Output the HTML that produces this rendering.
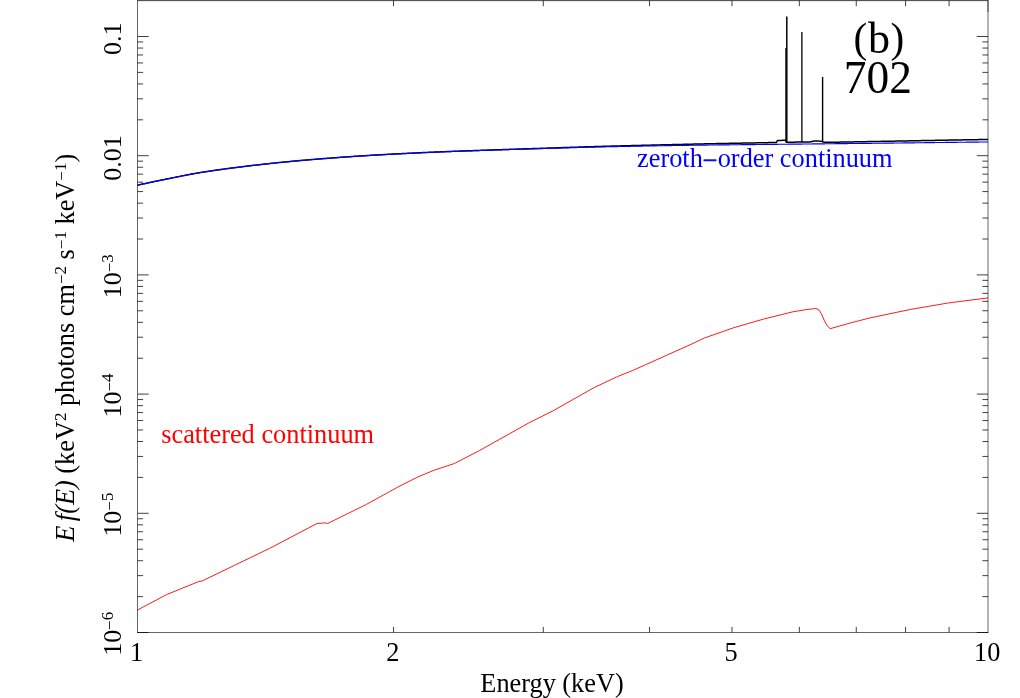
<!DOCTYPE html>
<html><head><meta charset="utf-8"><title>chart</title>
<style>html,body{margin:0;padding:0;background:#fff;width:1020px;height:698px;overflow:hidden}</style></head>
<body>
<svg width="1020" height="698" viewBox="0 0 1020 698" style="display:block;position:absolute;left:0;top:0;will-change:transform">
<rect width="1020" height="698" fill="#fff"/>
<path d="M137.5,185.19 L138.5,184.97 L139.5,184.75 L140.5,184.53 L141.5,184.31 L142.5,184.09 L143.5,183.88 L144.5,183.66 L145.5,183.45 L146.5,183.23 L147.5,183.02 L148.5,182.80 L149.5,182.59 L150.5,182.38 L151.5,182.16 L152.5,181.95 L153.5,181.74 L154.5,181.53 L155.5,181.32 L156.5,181.11 L157.5,180.91 L158.5,180.70 L159.5,180.49 L160.5,180.28 L161.5,180.08 L162.5,179.87 L163.5,179.67 L164.5,179.47 L165.5,179.26 L166.5,179.06 L167.5,178.86 L168.5,178.66 L169.5,178.46 L170.5,178.25 L171.5,178.05 L172.5,177.85 L173.5,177.64 L174.5,177.44 L175.5,177.24 L176.5,177.03 L177.5,176.83 L178.5,176.63 L179.5,176.43 L180.5,176.23 L181.5,176.03 L182.5,175.83 L183.5,175.63 L184.5,175.43 L185.5,175.24 L186.5,175.05 L187.5,174.85 L188.5,174.66 L189.5,174.47 L190.5,174.29 L191.5,174.10 L192.5,173.92 L193.5,173.73 L194.5,173.56 L195.5,173.38 L196.5,173.20 L197.5,173.03 L198.5,172.86 L199.5,172.70 L200.5,172.53 L201.5,172.37 L202.5,172.21 L203.5,172.05 L204.5,171.89 L205.5,171.74 L206.5,171.58 L207.5,171.43 L208.5,171.28 L209.5,171.12 L210.5,170.98 L211.5,170.83 L212.5,170.68 L213.5,170.53 L214.5,170.39 L215.5,170.25 L216.5,170.10 L217.5,169.96 L218.5,169.82 L219.5,169.68 L220.5,169.54 L221.5,169.41 L222.5,169.27 L223.5,169.13 L224.5,169.00 L225.5,168.87 L226.5,168.73 L227.5,168.60 L228.5,168.47 L229.5,168.34 L230.5,168.21 L231.5,168.08 L232.5,167.95 L233.5,167.82 L234.5,167.69 L235.5,167.57 L236.5,167.44 L237.5,167.31 L238.5,167.19 L239.5,167.06 L240.5,166.94 L241.5,166.81 L242.5,166.69 L243.5,166.57 L244.5,166.44 L245.5,166.32 L246.5,166.20 L247.5,166.08 L248.5,165.96 L249.5,165.84 L250.5,165.72 L251.5,165.60 L252.5,165.48 L253.5,165.36 L254.5,165.25 L255.5,165.13 L256.5,165.01 L257.5,164.90 L258.5,164.78 L259.5,164.67 L260.5,164.55 L261.5,164.44 L262.5,164.33 L263.5,164.22 L264.5,164.10 L265.5,163.99 L266.5,163.88 L267.5,163.77 L268.5,163.67 L269.5,163.56 L270.5,163.45 L271.5,163.34 L272.5,163.24 L273.5,163.13 L274.5,163.03 L275.5,162.92 L276.5,162.82 L277.5,162.72 L278.5,162.61 L279.5,162.51 L280.5,162.41 L281.5,162.31 L282.5,162.21 L283.5,162.11 L284.5,162.02 L285.5,161.92 L286.5,161.82 L287.5,161.73 L288.5,161.63 L289.5,161.54 L290.5,161.44 L291.5,161.35 L292.5,161.26 L293.5,161.16 L294.5,161.07 L295.5,160.98 L296.5,160.89 L297.5,160.80 L298.5,160.71 L299.5,160.62 L300.5,160.53 L301.5,160.44 L302.5,160.35 L303.5,160.27 L304.5,160.18 L305.5,160.09 L306.5,160.01 L307.5,159.92 L308.5,159.83 L309.5,159.75 L310.5,159.67 L311.5,159.58 L312.5,159.50 L313.5,159.42 L314.5,159.33 L315.5,159.25 L316.5,159.17 L317.5,159.09 L318.5,159.01 L319.5,158.93 L320.5,158.85 L321.5,158.77 L322.5,158.69 L323.5,158.62 L324.5,158.54 L325.5,158.46 L326.5,158.38 L327.5,158.31 L328.5,158.23 L329.5,158.16 L330.5,158.08 L331.5,158.00 L332.5,157.93 L333.5,157.85 L334.5,157.78 L335.5,157.71 L336.5,157.63 L337.5,157.56 L338.5,157.48 L339.5,157.41 L340.5,157.34 L341.5,157.27 L342.5,157.19 L343.5,157.12 L344.5,157.05 L345.5,156.98 L346.5,156.91 L347.5,156.84 L348.5,156.77 L349.5,156.70 L350.5,156.63 L351.5,156.56 L352.5,156.49 L353.5,156.42 L354.5,156.36 L355.5,156.29 L356.5,156.22 L357.5,156.16 L358.5,156.09 L359.5,156.03 L360.5,155.96 L361.5,155.90 L362.5,155.83 L363.5,155.77 L364.5,155.71 L365.5,155.65 L366.5,155.58 L367.5,155.52 L368.5,155.46 L369.5,155.40 L370.5,155.34 L371.5,155.28 L372.5,155.22 L373.5,155.17 L374.5,155.11 L375.5,155.05 L376.5,154.99 L377.5,154.93 L378.5,154.88 L379.5,154.82 L380.5,154.76 L381.5,154.71 L382.5,154.65 L383.5,154.60 L384.5,154.54 L385.5,154.48 L386.5,154.43 L387.5,154.37 L388.5,154.32 L389.5,154.27 L390.5,154.21 L391.5,154.16 L392.5,154.10 L393.5,154.05 L394.5,154.00 L395.5,153.94 L396.5,153.89 L397.5,153.84 L398.5,153.79 L399.5,153.74 L400.5,153.68 L401.5,153.63 L402.5,153.58 L403.5,153.53 L404.5,153.48 L405.5,153.43 L406.5,153.38 L407.5,153.33 L408.5,153.28 L409.5,153.23 L410.5,153.18 L411.5,153.13 L412.5,153.09 L413.5,153.04 L414.5,152.99 L415.5,152.94 L416.5,152.90 L417.5,152.85 L418.5,152.80 L419.5,152.75 L420.5,152.71 L421.5,152.66 L422.5,152.62 L423.5,152.57 L424.5,152.53 L425.5,152.48 L426.5,152.44 L427.5,152.39 L428.5,152.35 L429.5,152.31 L430.5,152.26 L431.5,152.22 L432.5,152.18 L433.5,152.13 L434.5,152.09 L435.5,152.05 L436.5,152.01 L437.5,151.97 L438.5,151.93 L439.5,151.88 L440.5,151.84 L441.5,151.80 L442.5,151.76 L443.5,151.72 L444.5,151.68 L445.5,151.64 L446.5,151.60 L447.5,151.56 L448.5,151.53 L449.5,151.49 L450.5,151.45 L451.5,151.41 L452.5,151.37 L453.5,151.33 L454.5,151.30 L455.5,151.26 L456.5,151.22 L457.5,151.18 L458.5,151.14 L459.5,151.11 L460.5,151.07 L461.5,151.03 L462.5,150.99 L463.5,150.96 L464.5,150.92 L465.5,150.88 L466.5,150.85 L467.5,150.81 L468.5,150.77 L469.5,150.74 L470.5,150.70 L471.5,150.67 L472.5,150.63 L473.5,150.60 L474.5,150.56 L475.5,150.52 L476.5,150.49 L477.5,150.45 L478.5,150.42 L479.5,150.38 L480.5,150.35 L481.5,150.31 L482.5,150.28 L483.5,150.25 L484.5,150.21 L485.5,150.18 L486.5,150.14 L487.5,150.11 L488.5,150.07 L489.5,150.04 L490.5,150.01 L491.5,149.97 L492.5,149.94 L493.5,149.90 L494.5,149.87 L495.5,149.84 L496.5,149.80 L497.5,149.77 L498.5,149.73 L499.5,149.70 L500.5,149.67 L501.5,149.63 L502.5,149.60 L503.5,149.57 L504.5,149.53 L505.5,149.50 L506.5,149.47 L507.5,149.43 L508.5,149.40 L509.5,149.37 L510.5,149.34 L511.5,149.30 L512.5,149.27 L513.5,149.24 L514.5,149.20 L515.5,149.17 L516.5,149.14 L517.5,149.10 L518.5,149.07 L519.5,149.04 L520.5,149.00 L521.5,148.97 L522.5,148.94 L523.5,148.91 L524.5,148.87 L525.5,148.84 L526.5,148.81 L527.5,148.77 L528.5,148.74 L529.5,148.71 L530.5,148.67 L531.5,148.64 L532.5,148.61 L533.5,148.57 L534.5,148.54 L535.5,148.51 L536.5,148.48 L537.5,148.44 L538.5,148.41 L539.5,148.38 L540.5,148.34 L541.5,148.31 L542.5,148.28 L543.5,148.24 L544.5,148.21 L545.5,148.18 L546.5,148.14 L547.5,148.11 L548.5,148.08 L549.5,148.05 L550.5,148.01 L551.5,147.98 L552.5,147.95 L553.5,147.91 L554.5,147.88 L555.5,147.85 L556.5,147.81 L557.5,147.78 L558.5,147.75 L559.5,147.71 L560.5,147.68 L561.5,147.65 L562.5,147.61 L563.5,147.58 L564.5,147.55 L565.5,147.52 L566.5,147.48 L567.5,147.45 L568.5,147.42 L569.5,147.39 L570.5,147.35 L571.5,147.32 L572.5,147.29 L573.5,147.26 L574.5,147.22 L575.5,147.19 L576.5,147.16 L577.5,147.13 L578.5,147.09 L579.5,147.06 L580.5,147.03 L581.5,147.00 L582.5,146.97 L583.5,146.94 L584.5,146.90 L585.5,146.87 L586.5,146.84 L587.5,146.81 L588.5,146.78 L589.5,146.75 L590.5,146.72 L591.5,146.69 L592.5,146.66 L593.5,146.63 L594.5,146.60 L595.5,146.57 L596.5,146.54 L597.5,146.51 L598.5,146.48 L599.5,146.45 L600.5,146.42 L601.5,146.39 L602.5,146.37 L603.5,146.34 L604.5,146.31 L605.5,146.28 L606.5,146.25 L607.5,146.23 L608.5,146.20 L609.5,146.17 L610.5,146.15 L611.5,146.12 L612.5,146.09 L613.5,146.07 L614.5,146.04 L615.5,146.01 L616.5,145.99 L617.5,145.96 L618.5,145.93 L619.5,145.91 L620.5,145.88 L621.5,145.86 L622.5,145.83 L623.5,145.81 L624.5,145.78 L625.5,145.76 L626.5,145.73 L627.5,145.71 L628.5,145.68 L629.5,145.66 L630.5,145.63 L631.5,145.61 L632.5,145.59 L633.5,145.56 L634.5,145.54 L635.5,145.51 L636.5,145.48 L637.5,145.46 L638.5,145.44 L639.5,145.41 L640.5,145.39 L641.5,145.36 L642.5,145.34 L643.5,145.31 L644.5,145.29 L645.5,145.26 L646.5,145.24 L647.5,145.21 L648.5,145.19 L649.5,145.16 L650.5,145.14 L651.5,145.11 L652.5,145.09 L653.5,145.07 L654.5,145.04 L655.5,145.02 L656.5,144.99 L657.5,144.97 L658.5,144.94 L659.5,144.92 L660.5,144.90 L661.5,144.87 L662.5,144.85 L663.5,144.82 L664.5,144.80 L665.5,144.78 L666.5,144.75 L667.5,144.73 L668.5,144.71 L669.5,144.68 L670.5,144.66 L671.5,144.63 L672.5,144.61 L673.5,144.59 L674.5,144.56 L675.5,144.54 L676.5,144.52 L677.5,144.49 L678.5,144.47 L679.5,144.45 L680.5,144.42 L681.5,144.40 L682.5,144.38 L683.5,144.35 L684.5,144.33 L685.5,144.31 L686.5,144.28 L687.5,144.26 L688.5,144.24 L689.5,144.21 L690.5,144.19 L691.5,144.17 L692.5,144.14 L693.5,144.12 L694.5,144.09 L695.5,144.07 L696.5,144.05 L697.5,144.02 L698.5,144.00 L699.5,143.98 L700.5,143.95 L701.5,143.93 L702.5,143.91 L703.5,143.88 L704.5,143.86 L705.5,143.84 L706.5,143.82 L707.5,143.80 L708.5,143.78 L709.5,143.76 L710.5,143.74 L711.5,143.72 L712.5,143.70 L713.5,143.68 L714.5,143.66 L715.5,143.64 L716.5,143.62 L717.5,143.60 L718.5,143.58 L719.5,143.56 L720.5,143.54 L721.5,143.52 L722.5,143.50 L723.5,143.48 L724.5,143.46 L725.5,143.44 L726.5,143.42 L727.5,143.40 L728.5,143.38 L729.5,143.36 L730.5,143.34 L731.5,143.32 L732.5,143.30 L733.5,143.28 L734.5,143.27 L735.5,143.25 L736.5,143.23 L737.5,143.21 L738.5,143.19 L739.5,143.17 L740.5,143.16 L741.5,143.14 L742.5,143.12 L743.5,143.10 L744.5,143.08 L745.5,143.06 L746.5,143.05 L747.5,143.03 L748.5,143.01 L749.5,142.99 L750.5,142.97 L751.5,142.95 L752.5,142.93 L753.5,142.91 L754.5,142.89 L755.5,142.88 L756.5,142.86 L757.5,142.84 L758.5,142.82 L759.5,142.80 L760.5,142.78 L761.5,142.76 L762.5,142.74 L763.5,142.72 L764.5,142.70 L765.5,142.68 L766.5,142.66 L767.5,142.64 L768.5,142.62 L769.5,142.61 L770.5,142.59 L771.5,142.57 L772.5,142.55 L773.5,142.53 L774.5,142.51 L775.5,142.49 L776.5,142.47 L777.5,140.45 L778.5,140.43 L779.5,140.42 L780.5,140.40 L781.5,140.38 L782.5,140.36 L783.5,140.34 L784.5,140.32 L785.5,140.30 L786.5,142.28 L787.5,142.26 L788.5,142.24 L789.5,142.22 L790.5,142.20 L791.5,142.18 L792.5,142.16 L793.5,142.15 L794.5,142.13 L795.5,142.11 L796.5,142.10 L797.5,142.08 L798.5,142.06 L799.5,142.05 L800.5,142.03 L801.5,142.01 L802.5,142.00 L803.5,141.98 L804.5,141.96 L805.5,141.95 L806.5,141.93 L807.5,141.92 L808.5,141.90 L809.5,141.89 L810.5,141.87 L811.5,141.86 L812.5,141.14 L813.5,141.13 L814.5,141.11 L815.5,141.10 L816.5,141.10 L817.5,141.10 L818.5,141.11 L819.5,141.14 L820.5,141.19 L821.5,141.24 L822.5,142.01 L823.5,142.08 L824.5,142.14 L825.5,142.19 L826.5,142.23 L827.5,142.26 L828.5,142.29 L829.5,142.31 L830.5,142.31 L831.5,142.29 L832.5,142.27 L833.5,142.25 L834.5,142.23 L835.5,142.22 L836.5,142.20 L837.5,142.18 L838.5,142.16 L839.5,142.14 L840.5,142.12 L841.5,142.11 L842.5,142.09 L843.5,142.07 L844.5,142.05 L845.5,142.03 L846.5,142.01 L847.5,141.99 L848.5,141.98 L849.5,141.96 L850.5,141.94 L851.5,141.92 L852.5,141.90 L853.5,141.88 L854.5,141.87 L855.5,141.85 L856.5,141.83 L857.5,141.81 L858.5,141.79 L859.5,141.77 L860.5,141.75 L861.5,141.74 L862.5,141.72 L863.5,141.70 L864.5,141.68 L865.5,141.66 L866.5,141.64 L867.5,141.62 L868.5,141.60 L869.5,141.59 L870.5,141.57 L871.5,141.55 L872.5,141.53 L873.5,141.51 L874.5,141.50 L875.5,141.48 L876.5,141.46 L877.5,141.44 L878.5,141.43 L879.5,141.41 L880.5,141.39 L881.5,141.37 L882.5,141.35 L883.5,141.34 L884.5,141.32 L885.5,141.30 L886.5,141.28 L887.5,141.26 L888.5,141.24 L889.5,141.23 L890.5,141.21 L891.5,141.19 L892.5,141.17 L893.5,141.15 L894.5,141.13 L895.5,141.11 L896.5,141.10 L897.5,141.08 L898.5,141.06 L899.5,141.04 L900.5,141.02 L901.5,141.00 L902.5,140.98 L903.5,140.96 L904.5,140.94 L905.5,140.92 L906.5,140.90 L907.5,140.88 L908.5,140.86 L909.5,140.84 L910.5,140.82 L911.5,140.81 L912.5,140.79 L913.5,140.77 L914.5,140.75 L915.5,140.73 L916.5,140.71 L917.5,140.70 L918.5,140.68 L919.5,140.66 L920.5,140.64 L921.5,140.62 L922.5,140.60 L923.5,140.58 L924.5,140.57 L925.5,140.55 L926.5,140.53 L927.5,140.51 L928.5,140.49 L929.5,140.47 L930.5,140.45 L931.5,140.44 L932.5,140.42 L933.5,140.40 L934.5,140.38 L935.5,140.36 L936.5,140.34 L937.5,140.33 L938.5,140.31 L939.5,140.29 L940.5,140.27 L941.5,140.25 L942.5,140.23 L943.5,140.21 L944.5,140.20 L945.5,140.18 L946.5,140.16 L947.5,140.14 L948.5,140.12 L949.5,140.11 L950.5,140.09 L951.5,140.07 L952.5,140.06 L953.5,140.04 L954.5,140.02 L955.5,140.01 L956.5,139.99 L957.5,139.97 L958.5,139.96 L959.5,139.94 L960.5,139.92 L961.5,139.91 L962.5,139.89 L963.5,139.87 L964.5,139.86 L965.5,139.84 L966.5,139.82 L967.5,139.81 L968.5,139.79 L969.5,139.77 L970.5,139.76 L971.5,139.74 L972.5,139.72 L973.5,139.71 L974.5,139.69 L975.5,139.67 L976.5,139.66 L977.5,139.64 L978.5,139.62 L979.5,139.61 L980.5,139.59 L981.5,139.57 L982.5,139.56 L983.5,139.54 L984.5,139.52 L985.5,139.51 L986.5,139.49 L987.5,139.47 L988.0,139.47" fill="none" stroke="#000" stroke-width="1.5" stroke-linejoin="round"/>
<path d="M786.8,142.3 L786.8,16.6" fill="none" stroke="#000" stroke-width="1.5"/>
<path d="M801.9,142.0 L801.9,32.0" fill="none" stroke="#000" stroke-width="1.3"/>
<path d="M822.6,142.0 L822.6,76.9" fill="none" stroke="#000" stroke-width="1.4"/>
<path d="M785.7,142.3 L785.7,48" fill="none" stroke="#000" stroke-width="0.9"/>
<path d="M137.5,185.20 L138.5,184.98 L139.5,184.76 L140.5,184.54 L141.5,184.33 L142.5,184.11 L143.5,183.89 L144.5,183.68 L145.5,183.46 L146.5,183.24 L147.5,183.03 L148.5,182.82 L149.5,182.60 L150.5,182.39 L151.5,182.18 L152.5,181.97 L153.5,181.76 L154.5,181.55 L155.5,181.34 L156.5,181.13 L157.5,180.92 L158.5,180.71 L159.5,180.51 L160.5,180.30 L161.5,180.10 L162.5,179.89 L163.5,179.69 L164.5,179.48 L165.5,179.28 L166.5,179.08 L167.5,178.88 L168.5,178.68 L169.5,178.47 L170.5,178.27 L171.5,178.07 L172.5,177.86 L173.5,177.66 L174.5,177.46 L175.5,177.25 L176.5,177.05 L177.5,176.85 L178.5,176.65 L179.5,176.45 L180.5,176.24 L181.5,176.05 L182.5,175.85 L183.5,175.65 L184.5,175.45 L185.5,175.26 L186.5,175.06 L187.5,174.87 L188.5,174.68 L189.5,174.49 L190.5,174.30 L191.5,174.12 L192.5,173.93 L193.5,173.75 L194.5,173.57 L195.5,173.40 L196.5,173.22 L197.5,173.05 L198.5,172.88 L199.5,172.71 L200.5,172.55 L201.5,172.39 L202.5,172.23 L203.5,172.07 L204.5,171.91 L205.5,171.76 L206.5,171.60 L207.5,171.45 L208.5,171.30 L209.5,171.14 L210.5,171.00 L211.5,170.85 L212.5,170.70 L213.5,170.55 L214.5,170.41 L215.5,170.27 L216.5,170.12 L217.5,169.98 L218.5,169.84 L219.5,169.70 L220.5,169.57 L221.5,169.43 L222.5,169.29 L223.5,169.16 L224.5,169.02 L225.5,168.89 L226.5,168.75 L227.5,168.62 L228.5,168.49 L229.5,168.36 L230.5,168.23 L231.5,168.10 L232.5,167.97 L233.5,167.84 L234.5,167.72 L235.5,167.59 L236.5,167.46 L237.5,167.34 L238.5,167.21 L239.5,167.09 L240.5,166.96 L241.5,166.84 L242.5,166.71 L243.5,166.59 L244.5,166.47 L245.5,166.35 L246.5,166.23 L247.5,166.10 L248.5,165.98 L249.5,165.86 L250.5,165.74 L251.5,165.63 L252.5,165.51 L253.5,165.39 L254.5,165.27 L255.5,165.16 L256.5,165.04 L257.5,164.92 L258.5,164.81 L259.5,164.70 L260.5,164.58 L261.5,164.47 L262.5,164.36 L263.5,164.24 L264.5,164.13 L265.5,164.02 L266.5,163.91 L267.5,163.80 L268.5,163.70 L269.5,163.59 L270.5,163.48 L271.5,163.37 L272.5,163.27 L273.5,163.16 L274.5,163.06 L275.5,162.95 L276.5,162.85 L277.5,162.75 L278.5,162.65 L279.5,162.55 L280.5,162.45 L281.5,162.35 L282.5,162.25 L283.5,162.15 L284.5,162.05 L285.5,161.95 L286.5,161.86 L287.5,161.76 L288.5,161.67 L289.5,161.57 L290.5,161.48 L291.5,161.39 L292.5,161.29 L293.5,161.20 L294.5,161.11 L295.5,161.02 L296.5,160.93 L297.5,160.84 L298.5,160.75 L299.5,160.66 L300.5,160.57 L301.5,160.48 L302.5,160.39 L303.5,160.31 L304.5,160.22 L305.5,160.13 L306.5,160.05 L307.5,159.96 L308.5,159.88 L309.5,159.79 L310.5,159.71 L311.5,159.63 L312.5,159.54 L313.5,159.46 L314.5,159.38 L315.5,159.30 L316.5,159.22 L317.5,159.14 L318.5,159.06 L319.5,158.98 L320.5,158.90 L321.5,158.82 L322.5,158.74 L323.5,158.66 L324.5,158.58 L325.5,158.51 L326.5,158.43 L327.5,158.35 L328.5,158.28 L329.5,158.20 L330.5,158.13 L331.5,158.05 L332.5,157.98 L333.5,157.90 L334.5,157.83 L335.5,157.75 L336.5,157.68 L337.5,157.61 L338.5,157.53 L339.5,157.46 L340.5,157.39 L341.5,157.32 L342.5,157.24 L343.5,157.17 L344.5,157.10 L345.5,157.03 L346.5,156.96 L347.5,156.89 L348.5,156.82 L349.5,156.75 L350.5,156.68 L351.5,156.61 L352.5,156.55 L353.5,156.48 L354.5,156.41 L355.5,156.35 L356.5,156.28 L357.5,156.21 L358.5,156.15 L359.5,156.08 L360.5,156.02 L361.5,155.96 L362.5,155.89 L363.5,155.83 L364.5,155.77 L365.5,155.71 L366.5,155.64 L367.5,155.58 L368.5,155.52 L369.5,155.46 L370.5,155.41 L371.5,155.35 L372.5,155.29 L373.5,155.23 L374.5,155.17 L375.5,155.12 L376.5,155.06 L377.5,155.00 L378.5,154.95 L379.5,154.89 L380.5,154.83 L381.5,154.78 L382.5,154.72 L383.5,154.67 L384.5,154.61 L385.5,154.56 L386.5,154.50 L387.5,154.45 L388.5,154.40 L389.5,154.34 L390.5,154.29 L391.5,154.24 L392.5,154.18 L393.5,154.13 L394.5,154.08 L395.5,154.03 L396.5,153.97 L397.5,153.92 L398.5,153.87 L399.5,153.82 L400.5,153.77 L401.5,153.72 L402.5,153.67 L403.5,153.62 L404.5,153.57 L405.5,153.52 L406.5,153.47 L407.5,153.42 L408.5,153.37 L409.5,153.32 L410.5,153.28 L411.5,153.23 L412.5,153.18 L413.5,153.13 L414.5,153.09 L415.5,153.04 L416.5,152.99 L417.5,152.95 L418.5,152.90 L419.5,152.85 L420.5,152.81 L421.5,152.76 L422.5,152.72 L423.5,152.67 L424.5,152.63 L425.5,152.59 L426.5,152.54 L427.5,152.50 L428.5,152.46 L429.5,152.41 L430.5,152.37 L431.5,152.33 L432.5,152.29 L433.5,152.24 L434.5,152.20 L435.5,152.16 L436.5,152.12 L437.5,152.08 L438.5,152.04 L439.5,152.00 L440.5,151.96 L441.5,151.92 L442.5,151.88 L443.5,151.84 L444.5,151.80 L445.5,151.76 L446.5,151.72 L447.5,151.68 L448.5,151.65 L449.5,151.61 L450.5,151.57 L451.5,151.53 L452.5,151.49 L453.5,151.46 L454.5,151.42 L455.5,151.38 L456.5,151.35 L457.5,151.31 L458.5,151.27 L459.5,151.24 L460.5,151.20 L461.5,151.16 L462.5,151.13 L463.5,151.09 L464.5,151.06 L465.5,151.02 L466.5,150.99 L467.5,150.95 L468.5,150.92 L469.5,150.88 L470.5,150.85 L471.5,150.81 L472.5,150.78 L473.5,150.74 L474.5,150.71 L475.5,150.68 L476.5,150.64 L477.5,150.61 L478.5,150.58 L479.5,150.54 L480.5,150.51 L481.5,150.48 L482.5,150.44 L483.5,150.41 L484.5,150.38 L485.5,150.34 L486.5,150.31 L487.5,150.28 L488.5,150.25 L489.5,150.21 L490.5,150.18 L491.5,150.15 L492.5,150.12 L493.5,150.08 L494.5,150.05 L495.5,150.02 L496.5,149.99 L497.5,149.96 L498.5,149.93 L499.5,149.89 L500.5,149.86 L501.5,149.83 L502.5,149.80 L503.5,149.77 L504.5,149.74 L505.5,149.71 L506.5,149.68 L507.5,149.64 L508.5,149.61 L509.5,149.58 L510.5,149.55 L511.5,149.52 L512.5,149.49 L513.5,149.46 L514.5,149.43 L515.5,149.40 L516.5,149.37 L517.5,149.34 L518.5,149.31 L519.5,149.27 L520.5,149.24 L521.5,149.21 L522.5,149.18 L523.5,149.15 L524.5,149.12 L525.5,149.09 L526.5,149.06 L527.5,149.03 L528.5,149.00 L529.5,148.97 L530.5,148.94 L531.5,148.91 L532.5,148.88 L533.5,148.85 L534.5,148.82 L535.5,148.78 L536.5,148.75 L537.5,148.72 L538.5,148.69 L539.5,148.66 L540.5,148.63 L541.5,148.60 L542.5,148.57 L543.5,148.54 L544.5,148.51 L545.5,148.48 L546.5,148.45 L547.5,148.42 L548.5,148.39 L549.5,148.36 L550.5,148.33 L551.5,148.30 L552.5,148.27 L553.5,148.24 L554.5,148.21 L555.5,148.18 L556.5,148.15 L557.5,148.12 L558.5,148.09 L559.5,148.06 L560.5,148.03 L561.5,148.00 L562.5,147.97 L563.5,147.94 L564.5,147.91 L565.5,147.88 L566.5,147.86 L567.5,147.83 L568.5,147.80 L569.5,147.77 L570.5,147.74 L571.5,147.71 L572.5,147.68 L573.5,147.66 L574.5,147.63 L575.5,147.60 L576.5,147.57 L577.5,147.54 L578.5,147.52 L579.5,147.49 L580.5,147.46 L581.5,147.43 L582.5,147.41 L583.5,147.38 L584.5,147.35 L585.5,147.33 L586.5,147.30 L587.5,147.27 L588.5,147.25 L589.5,147.22 L590.5,147.19 L591.5,147.17 L592.5,147.14 L593.5,147.12 L594.5,147.09 L595.5,147.07 L596.5,147.04 L597.5,147.02 L598.5,146.99 L599.5,146.97 L600.5,146.95 L601.5,146.92 L602.5,146.90 L603.5,146.87 L604.5,146.85 L605.5,146.83 L606.5,146.80 L607.5,146.78 L608.5,146.76 L609.5,146.74 L610.5,146.71 L611.5,146.69 L612.5,146.67 L613.5,146.65 L614.5,146.63 L615.5,146.61 L616.5,146.59 L617.5,146.57 L618.5,146.54 L619.5,146.52 L620.5,146.50 L621.5,146.48 L622.5,146.46 L623.5,146.44 L624.5,146.42 L625.5,146.40 L626.5,146.38 L627.5,146.36 L628.5,146.34 L629.5,146.32 L630.5,146.30 L631.5,146.28 L632.5,146.26 L633.5,146.24 L634.5,146.22 L635.5,146.20 L636.5,146.18 L637.5,146.16 L638.5,146.14 L639.5,146.13 L640.5,146.11 L641.5,146.09 L642.5,146.07 L643.5,146.05 L644.5,146.03 L645.5,146.01 L646.5,145.99 L647.5,145.98 L648.5,145.96 L649.5,145.94 L650.5,145.92 L651.5,145.90 L652.5,145.89 L653.5,145.87 L654.5,145.85 L655.5,145.83 L656.5,145.82 L657.5,145.80 L658.5,145.78 L659.5,145.76 L660.5,145.75 L661.5,145.73 L662.5,145.71 L663.5,145.70 L664.5,145.68 L665.5,145.66 L666.5,145.65 L667.5,145.63 L668.5,145.61 L669.5,145.60 L670.5,145.58 L671.5,145.57 L672.5,145.55 L673.5,145.53 L674.5,145.52 L675.5,145.50 L676.5,145.49 L677.5,145.47 L678.5,145.46 L679.5,145.44 L680.5,145.43 L681.5,145.41 L682.5,145.40 L683.5,145.38 L684.5,145.37 L685.5,145.35 L686.5,145.34 L687.5,145.32 L688.5,145.31 L689.5,145.29 L690.5,145.28 L691.5,145.27 L692.5,145.25 L693.5,145.24 L694.5,145.22 L695.5,145.21 L696.5,145.20 L697.5,145.18 L698.5,145.17 L699.5,145.16 L700.5,145.14 L701.5,145.13 L702.5,145.12 L703.5,145.10 L704.5,145.09 L705.5,145.08 L706.5,145.07 L707.5,145.06 L708.5,145.04 L709.5,145.03 L710.5,145.02 L711.5,145.01 L712.5,145.00 L713.5,144.98 L714.5,144.97 L715.5,144.96 L716.5,144.95 L717.5,144.94 L718.5,144.93 L719.5,144.92 L720.5,144.91 L721.5,144.90 L722.5,144.89 L723.5,144.87 L724.5,144.86 L725.5,144.85 L726.5,144.84 L727.5,144.83 L728.5,144.82 L729.5,144.81 L730.5,144.80 L731.5,144.79 L732.5,144.78 L733.5,144.77 L734.5,144.76 L735.5,144.75 L736.5,144.74 L737.5,144.73 L738.5,144.72 L739.5,144.71 L740.5,144.70 L741.5,144.69 L742.5,144.68 L743.5,144.67 L744.5,144.66 L745.5,144.65 L746.5,144.64 L747.5,144.63 L748.5,144.62 L749.5,144.61 L750.5,144.60 L751.5,144.59 L752.5,144.58 L753.5,144.57 L754.5,144.56 L755.5,144.55 L756.5,144.54 L757.5,144.53 L758.5,144.52 L759.5,144.51 L760.5,144.49 L761.5,144.48 L762.5,144.47 L763.5,144.46 L764.5,144.45 L765.5,144.44 L766.5,144.43 L767.5,144.42 L768.5,144.41 L769.5,144.40 L770.5,144.39 L771.5,144.38 L772.5,144.37 L773.5,144.35 L774.5,144.34 L775.5,144.33 L776.5,144.32 L777.5,144.31 L778.5,144.30 L779.5,144.29 L780.5,144.28 L781.5,144.27 L782.5,144.26 L783.5,144.25 L784.5,144.24 L785.5,144.23 L786.5,144.22 L787.5,144.21 L788.5,144.19 L789.5,144.18 L790.5,144.17 L791.5,144.16 L792.5,144.15 L793.5,144.14 L794.5,144.13 L795.5,144.12 L796.5,144.11 L797.5,144.10 L798.5,144.09 L799.5,144.08 L800.5,144.07 L801.5,144.06 L802.5,144.04 L803.5,144.03 L804.5,144.02 L805.5,144.01 L806.5,144.00 L807.5,143.99 L808.5,143.98 L809.5,143.97 L810.5,143.96 L811.5,143.95 L812.5,143.94 L813.5,143.93 L814.5,143.92 L815.5,143.91 L816.5,143.90 L817.5,143.88 L818.5,143.87 L819.5,143.86 L820.5,143.85 L821.5,143.84 L822.5,143.83 L823.5,143.82 L824.5,143.81 L825.5,143.80 L826.5,143.79 L827.5,143.78 L828.5,143.77 L829.5,143.76 L830.5,143.74 L831.5,143.73 L832.5,143.72 L833.5,143.71 L834.5,143.70 L835.5,143.69 L836.5,143.68 L837.5,143.67 L838.5,143.66 L839.5,143.65 L840.5,143.64 L841.5,143.63 L842.5,143.62 L843.5,143.61 L844.5,143.59 L845.5,143.58 L846.5,143.57 L847.5,143.56 L848.5,143.55 L849.5,143.54 L850.5,143.53 L851.5,143.52 L852.5,143.51 L853.5,143.50 L854.5,143.49 L855.5,143.48 L856.5,143.47 L857.5,143.46 L858.5,143.45 L859.5,143.44 L860.5,143.42 L861.5,143.41 L862.5,143.40 L863.5,143.39 L864.5,143.38 L865.5,143.37 L866.5,143.36 L867.5,143.35 L868.5,143.34 L869.5,143.33 L870.5,143.32 L871.5,143.31 L872.5,143.29 L873.5,143.28 L874.5,143.27 L875.5,143.26 L876.5,143.25 L877.5,143.24 L878.5,143.23 L879.5,143.22 L880.5,143.21 L881.5,143.20 L882.5,143.18 L883.5,143.17 L884.5,143.16 L885.5,143.15 L886.5,143.14 L887.5,143.13 L888.5,143.12 L889.5,143.11 L890.5,143.09 L891.5,143.08 L892.5,143.07 L893.5,143.06 L894.5,143.05 L895.5,143.04 L896.5,143.02 L897.5,143.01 L898.5,143.00 L899.5,142.99 L900.5,142.98 L901.5,142.97 L902.5,142.95 L903.5,142.94 L904.5,142.93 L905.5,142.92 L906.5,142.91 L907.5,142.89 L908.5,142.88 L909.5,142.87 L910.5,142.86 L911.5,142.84 L912.5,142.83 L913.5,142.82 L914.5,142.81 L915.5,142.80 L916.5,142.78 L917.5,142.77 L918.5,142.76 L919.5,142.75 L920.5,142.73 L921.5,142.72 L922.5,142.71 L923.5,142.70 L924.5,142.69 L925.5,142.67 L926.5,142.66 L927.5,142.65 L928.5,142.64 L929.5,142.63 L930.5,142.61 L931.5,142.60 L932.5,142.59 L933.5,142.58 L934.5,142.57 L935.5,142.55 L936.5,142.54 L937.5,142.53 L938.5,142.52 L939.5,142.51 L940.5,142.49 L941.5,142.48 L942.5,142.47 L943.5,142.46 L944.5,142.45 L945.5,142.44 L946.5,142.42 L947.5,142.41 L948.5,142.40 L949.5,142.39 L950.5,142.38 L951.5,142.37 L952.5,142.35 L953.5,142.34 L954.5,142.33 L955.5,142.32 L956.5,142.31 L957.5,142.30 L958.5,142.29 L959.5,142.27 L960.5,142.26 L961.5,142.25 L962.5,142.24 L963.5,142.23 L964.5,142.22 L965.5,142.20 L966.5,142.19 L967.5,142.18 L968.5,142.17 L969.5,142.16 L970.5,142.15 L971.5,142.14 L972.5,142.12 L973.5,142.11 L974.5,142.10 L975.5,142.09 L976.5,142.08 L977.5,142.07 L978.5,142.06 L979.5,142.05 L980.5,142.03 L981.5,142.02 L982.5,142.01 L983.5,142.00 L984.5,141.99 L985.5,141.98 L986.5,141.97 L987.5,141.96 L988.0,141.95" fill="none" stroke="#0000ff" stroke-width="1.15" stroke-linejoin="round"/>
<path d="M137.5,610.00 L166.4,594.70 L198.8,581.50 L201.7,581.20 L237.0,564.10 L269.4,548.50 L317.0,523.50 L325.2,522.90 L327.6,523.50 L366.4,504.40 L400.0,485.90 L417.6,477.10 L433.8,470.30 L454.4,463.50 L479.4,450.60 L529.4,422.60 L552.9,410.90 L594.1,387.60 L617.6,376.50 L632.4,370.60 L690.0,344.80 L704.7,337.90 L734.1,327.60 L763.5,319.10 L792.9,311.80 L805.7,309.70 L815.9,308.50 L819.0,309.90 L821.4,313.80 L824.5,320.90 L826.9,325.20 L830.0,328.70 L848.8,323.40 L870.0,317.90 L910.6,309.40 L948.8,302.90 L988.0,297.90" fill="none" stroke="#ff0000" stroke-width="0.9" stroke-linejoin="round"/>
<g stroke="#000" stroke-width="0.6" fill="none">
<path d="M137.5,0.32V632.8 M988.0,0.32V632.8 M137.2,632.5H988.3"/>
<path d="M137.2,0.62H988.3" stroke-width="0.75"/>
<path d="M137.5,632.50h11.2 M988.0,632.50h-11.2" stroke-width="0.75"/>
<path d="M137.5,596.62h5.6 M988.0,596.62h-5.6" stroke-width="0.75"/>
<path d="M137.5,575.63h5.6 M988.0,575.63h-5.6" stroke-width="0.75"/>
<path d="M137.5,560.73h5.6 M988.0,560.73h-5.6" stroke-width="0.75"/>
<path d="M137.5,549.18h5.6 M988.0,549.18h-5.6" stroke-width="0.75"/>
<path d="M137.5,539.74h5.6 M988.0,539.74h-5.6" stroke-width="0.75"/>
<path d="M137.5,531.76h5.6 M988.0,531.76h-5.6" stroke-width="0.75"/>
<path d="M137.5,524.85h5.6 M988.0,524.85h-5.6" stroke-width="0.75"/>
<path d="M137.5,518.75h5.6 M988.0,518.75h-5.6" stroke-width="0.75"/>
<path d="M137.5,513.30h11.2 M988.0,513.30h-11.2" stroke-width="0.75"/>
<path d="M137.5,477.42h5.6 M988.0,477.42h-5.6" stroke-width="0.75"/>
<path d="M137.5,456.43h5.6 M988.0,456.43h-5.6" stroke-width="0.75"/>
<path d="M137.5,441.53h5.6 M988.0,441.53h-5.6" stroke-width="0.75"/>
<path d="M137.5,429.98h5.6 M988.0,429.98h-5.6" stroke-width="0.75"/>
<path d="M137.5,420.54h5.6 M988.0,420.54h-5.6" stroke-width="0.75"/>
<path d="M137.5,412.56h5.6 M988.0,412.56h-5.6" stroke-width="0.75"/>
<path d="M137.5,405.65h5.6 M988.0,405.65h-5.6" stroke-width="0.75"/>
<path d="M137.5,399.55h5.6 M988.0,399.55h-5.6" stroke-width="0.75"/>
<path d="M137.5,394.10h11.2 M988.0,394.10h-11.2" stroke-width="0.75"/>
<path d="M137.5,358.22h5.6 M988.0,358.22h-5.6" stroke-width="0.75"/>
<path d="M137.5,337.23h5.6 M988.0,337.23h-5.6" stroke-width="0.75"/>
<path d="M137.5,322.33h5.6 M988.0,322.33h-5.6" stroke-width="0.75"/>
<path d="M137.5,310.78h5.6 M988.0,310.78h-5.6" stroke-width="0.75"/>
<path d="M137.5,301.34h5.6 M988.0,301.34h-5.6" stroke-width="0.75"/>
<path d="M137.5,293.36h5.6 M988.0,293.36h-5.6" stroke-width="0.75"/>
<path d="M137.5,286.45h5.6 M988.0,286.45h-5.6" stroke-width="0.75"/>
<path d="M137.5,280.35h5.6 M988.0,280.35h-5.6" stroke-width="0.75"/>
<path d="M137.5,274.90h11.2 M988.0,274.90h-11.2" stroke-width="0.75"/>
<path d="M137.5,239.02h5.6 M988.0,239.02h-5.6" stroke-width="0.75"/>
<path d="M137.5,218.03h5.6 M988.0,218.03h-5.6" stroke-width="0.75"/>
<path d="M137.5,203.13h5.6 M988.0,203.13h-5.6" stroke-width="0.75"/>
<path d="M137.5,191.58h5.6 M988.0,191.58h-5.6" stroke-width="0.75"/>
<path d="M137.5,182.14h5.6 M988.0,182.14h-5.6" stroke-width="0.75"/>
<path d="M137.5,174.16h5.6 M988.0,174.16h-5.6" stroke-width="0.75"/>
<path d="M137.5,167.25h5.6 M988.0,167.25h-5.6" stroke-width="0.75"/>
<path d="M137.5,161.15h5.6 M988.0,161.15h-5.6" stroke-width="0.75"/>
<path d="M137.5,155.70h11.2 M988.0,155.70h-11.2" stroke-width="0.75"/>
<path d="M137.5,119.82h5.6 M988.0,119.82h-5.6" stroke-width="0.75"/>
<path d="M137.5,98.83h5.6 M988.0,98.83h-5.6" stroke-width="0.75"/>
<path d="M137.5,83.93h5.6 M988.0,83.93h-5.6" stroke-width="0.75"/>
<path d="M137.5,72.38h5.6 M988.0,72.38h-5.6" stroke-width="0.75"/>
<path d="M137.5,62.94h5.6 M988.0,62.94h-5.6" stroke-width="0.75"/>
<path d="M137.5,54.96h5.6 M988.0,54.96h-5.6" stroke-width="0.75"/>
<path d="M137.5,48.05h5.6 M988.0,48.05h-5.6" stroke-width="0.75"/>
<path d="M137.5,41.95h5.6 M988.0,41.95h-5.6" stroke-width="0.75"/>
<path d="M137.5,36.50h11.2 M988.0,36.50h-11.2" stroke-width="0.75"/>
<path d="M393.53,632.5v-5.6 M393.53,0.62v5.6" stroke-width="0.75"/>
<path d="M543.29,632.5v-5.6 M543.29,0.62v5.6" stroke-width="0.75"/>
<path d="M649.55,632.5v-5.6 M649.55,0.62v5.6" stroke-width="0.75"/>
<path d="M731.97,632.5v-5.6 M731.97,0.62v5.6" stroke-width="0.75"/>
<path d="M799.32,632.5v-5.6 M799.32,0.62v5.6" stroke-width="0.75"/>
<path d="M856.26,632.5v-5.6 M856.26,0.62v5.6" stroke-width="0.75"/>
<path d="M905.58,632.5v-5.6 M905.58,0.62v5.6" stroke-width="0.75"/>
<path d="M949.08,632.5v-5.6 M949.08,0.62v5.6" stroke-width="0.75"/>
<path d="M988.0,0.62v11.2"/>
</g>
<g font-family="Liberation Serif, serif" font-size="26.3px" fill="#000">
<text x="136.70" y="661.4" text-anchor="middle">1</text>
<text x="392.73" y="661.4" text-anchor="middle">2</text>
<text x="731.17" y="661.4" text-anchor="middle">5</text>
<text x="987.20" y="661.4" text-anchor="middle">10</text>
<text x="552.0" y="692.2" text-anchor="middle">Energy (keV)</text>
<text transform="translate(121.2,38.80) rotate(-90)" text-anchor="middle" font-size="25.9px">0.1</text>
<text transform="translate(121.2,158.00) rotate(-90)" text-anchor="middle" font-size="25.9px">0.01</text>
<text transform="translate(121.2,276.20) rotate(-90)" text-anchor="middle" font-size="25.9px">10<tspan font-size="17px" dy="-6.7">−</tspan><tspan font-size="17px" dy="-1.2">3</tspan></text>
<text transform="translate(121.2,395.40) rotate(-90)" text-anchor="middle" font-size="25.9px">10<tspan font-size="17px" dy="-6.7">−</tspan><tspan font-size="17px" dy="-1.2">4</tspan></text>
<text transform="translate(121.2,514.60) rotate(-90)" text-anchor="middle" font-size="25.9px">10<tspan font-size="17px" dy="-6.7">−</tspan><tspan font-size="17px" dy="-1.2">5</tspan></text>
<text transform="translate(121.2,633.80) rotate(-90)" text-anchor="middle" font-size="25.9px">10<tspan font-size="17px" dy="-6.7">−</tspan><tspan font-size="17px" dy="-1.2">6</tspan></text>
<text transform="translate(74,347.8) rotate(-90)" text-anchor="middle"><tspan font-style="italic" word-spacing="-2">E f(E)</tspan> (keV<tspan font-size="17px" dy="-7.9">2</tspan><tspan dy="7.9"> photons cm</tspan><tspan font-size="17px" dy="-6.7">−</tspan><tspan font-size="17px" dy="-1.2">2</tspan><tspan dy="7.9"> s</tspan><tspan font-size="17px" dy="-6.7">−</tspan><tspan font-size="17px" dy="-1.2">1</tspan><tspan dy="7.9"> keV</tspan><tspan font-size="17px" dy="-6.7">−</tspan><tspan font-size="17px" dy="-1.2">1</tspan><tspan dy="7.9">)</tspan></text>
</g>
<text x="637" y="166.6" font-family="Liberation Serif, serif" font-size="26.35px" fill="#0000ff">zeroth<tspan dy="1.9" stroke="#0000ff" stroke-width="0.5">−</tspan><tspan dy="-1.9">order continuum</tspan></text>
<text x="161.2" y="442.6" font-family="Liberation Serif, serif" font-size="26.35px" fill="#ff0000">scattered continuum</text>
<g font-family="Liberation Serif, serif" fill="#000" text-anchor="middle">
<text x="860.5" y="52.0" font-size="41.3px">(</text>
<text x="879.1" y="52.7" font-size="44px">b</text>
<text x="897.5" y="52.0" font-size="41.3px">)</text>
<text x="877.9" y="93.1" font-size="45.4px">702</text>
</g>
</svg>
</body></html>
